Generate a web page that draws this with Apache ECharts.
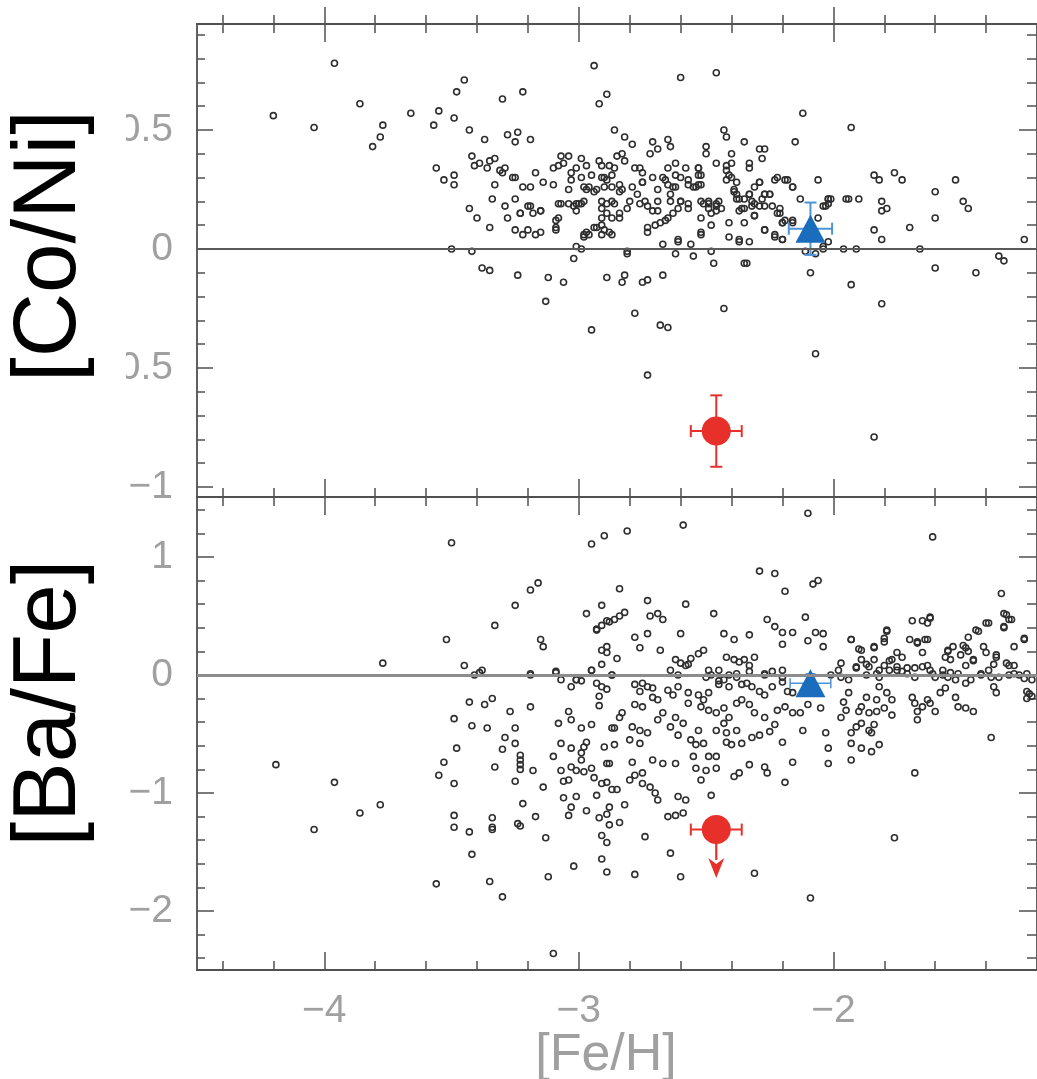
<!DOCTYPE html>
<html>
<head>
<meta charset="utf-8">
<script src="https://cdn.jsdelivr.net/npm/echarts@6/dist/echarts.min.js"></script>
<style>
html,body{margin:0;padding:0;background:#fff;}
#chart{width:1037px;height:1079px;}
</style>
</head>
<body>
<div id="chart"></div>
<script>
// ---------------- data ----------------
// comparison stars, top panel: [ [Fe/H], [Co/Ni] ]
const coNiStars = [
[-4.20,0.56],[-4.04,0.51],[-3.96,0.78],[-3.86,0.61],[-3.81,0.43],[-3.78,0.47],[-3.77,0.52],[-3.66,0.57],[-3.57,0.52],[-3.55,0.58],[-3.49,0.55],[-3.48,0.66],[-3.45,0.71],[-3.43,0.50],[-3.37,0.46],[-3.30,0.63],[-3.28,0.48],[-3.25,0.45],[-3.56,0.34],[-3.53,0.29],[-3.49,0.27],[-3.49,0.31],[-3.42,0.39],[-3.41,0.35],[-3.39,0.36],[-3.36,0.34],[-3.35,0.37],[-3.33,0.38],[-3.31,0.33],[-3.29,0.34],[-3.26,0.30],[-3.33,0.27],[-3.34,0.21],[-3.29,0.18],[-3.25,0.21],[-3.43,0.17],[-3.40,0.13],[-3.35,0.09],[-3.28,0.13],[-3.25,0.08],[-3.50,0.00],[-3.42,-0.01],[-3.38,-0.08],[-3.35,-0.09],[-3.24,-0.11],
[-3.22,0.66],[-2.89,0.65],[-2.92,0.61],[-2.86,0.50],[-2.82,0.47],[-3.24,0.49],[-3.19,0.46],[-3.30,0.32],[-3.25,0.30],[-3.22,0.26],[-3.19,0.26],[-3.17,0.32],[-3.14,0.28],[-3.10,0.27],[-3.10,0.34],[-3.07,0.39],[-3.04,0.39],[-3.06,0.36],[-3.08,0.35],[-3.01,0.34],[-2.99,0.38],[-2.97,0.35],[-2.95,0.31],[-3.03,0.32],[-3.03,0.29],[-3.04,0.25],[-2.99,0.30],[-2.92,0.37],[-2.91,0.35],[-2.88,0.35],[-2.86,0.34],[-2.83,0.40],[-2.82,0.37],[-2.91,0.30],[-2.89,0.29],[-2.87,0.31],[-2.84,0.27],[-2.83,0.25],[-2.96,0.26],[-2.93,0.25],[-3.23,0.15],[-3.19,0.18],[-3.18,0.15],[-3.15,0.16],[-3.22,0.06],[-3.17,0.06],[-3.09,0.09],[-3.08,0.13],[-3.07,0.19],[-3.04,0.19],[-3.01,0.19],[-2.99,0.19],[-3.01,0.16],[-2.98,0.06],[-2.97,0.07],[-2.94,0.09],[-2.91,0.10],[-2.91,0.06],[-2.88,0.07],[-2.91,0.17],[-2.89,0.19],[-2.87,0.13],[-2.84,0.15],[-2.94,0.24],[-3.01,0.01],[-2.99,0.00],[-3.02,-0.04],[-3.12,-0.12],[-3.06,-0.14],[-3.13,-0.22],[-2.89,-0.12],[-2.83,-0.14],[-2.82,-0.11],
[-2.94,0.77],[-2.60,0.72],[-2.46,0.74],[-2.12,0.57],[-1.93,0.51],[-2.79,0.44],[-2.71,0.45],[-2.69,0.42],[-2.65,0.46],[-2.64,0.43],[-2.72,0.40],[-2.50,0.43],[-2.50,0.40],[-2.43,0.50],[-2.42,0.47],[-2.35,0.45],[-2.29,0.42],[-2.27,0.42],[-2.40,0.40],[-2.28,0.38],[-2.33,0.36],[-2.33,0.34],[-2.15,0.45],[-2.90,0.30],[-2.85,0.39],[-2.76,0.34],[-2.75,0.32],[-2.78,0.34],[-2.65,0.34],[-2.62,0.36],[-2.58,0.34],[-2.62,0.31],[-2.53,0.34],[-2.53,0.31],[-2.46,0.36],[-2.42,0.35],[-2.40,0.36],[-2.42,0.33],[-2.41,0.31],[-2.98,0.26],[-2.97,0.25],[-2.90,0.26],[-2.87,0.26],[-2.84,0.24],[-2.75,0.28],[-2.71,0.30],[-2.67,0.30],[-2.65,0.27],[-2.63,0.26],[-2.57,0.27],[-2.54,0.26],[-2.52,0.27],[-2.38,0.28],[-2.39,0.24],[-2.29,0.28],[-2.22,0.30],[-2.18,0.29],[-2.16,0.26],[-2.06,0.29],[-1.84,0.31],[-1.82,0.29],[-1.76,0.32],[-1.73,0.29],[-1.52,0.29],[-1.60,0.24],[-1.49,0.20],[-1.47,0.17],[-1.81,0.20],[-1.79,0.17],[-1.81,0.16],[-1.90,0.21],[-1.95,0.21],[-1.94,0.21],[-2.02,0.21],[-2.03,0.18],[-2.06,0.13],[-1.60,0.13],[-1.70,0.09],[-1.84,0.08],[-1.81,0.04],[-1.25,0.04],[-1.96,0.00],[-1.91,0.00],[-1.66,0.00],[-2.04,0.00],[-1.35,-0.03],[-1.33,-0.05],[-1.60,-0.08],[-1.44,-0.10],[-1.93,-0.15],[-1.81,-0.23],[-2.09,-0.10],[-2.11,-0.01],[-2.07,-0.02],[-2.07,-0.44],[-1.84,-0.79],[-2.43,-0.25],[-2.73,-0.53],[-2.68,-0.32],[-2.65,-0.33],[-2.78,-0.27],[-2.95,-0.34],[-2.73,-0.13],[-2.75,-0.14],[-2.67,-0.11],[-2.35,-0.06],[-2.34,-0.06],[-2.47,-0.06],[-2.62,-0.02],[-2.55,-0.03],[-2.48,-0.01],[-2.81,-0.01],[-2.67,0.02],[-2.61,0.04],[-2.56,0.02],[-2.52,0.07],[-2.48,0.10],[-2.41,0.05],[-2.37,0.04],[-2.33,0.03],[-2.41,0.11],[-2.35,0.11],[-2.27,0.08],[-2.23,0.05],[-2.20,0.04],[-2.20,0.11],[-2.16,0.11],[-2.21,0.15],[-2.27,0.18],[-2.31,0.19],[-2.31,0.14],[-2.35,0.17],[-2.37,0.16],[-2.38,0.21],[-2.35,0.21],[-2.33,0.23],[-2.27,0.23],[-2.25,0.23],[-2.13,0.21],[-2.44,0.17],[-2.46,0.19],[-2.49,0.17],[-2.51,0.19],[-2.49,0.20],[-2.48,0.15],[-2.46,0.16],[-2.52,0.13],[-2.57,0.17],[-2.60,0.20],[-2.61,0.17],[-2.63,0.15],[-2.65,0.13],[-2.66,0.12],[-2.68,0.11],[-2.70,0.10],[-2.73,0.09],[-2.73,0.07],[-2.69,0.16],[-2.71,0.16],[-2.73,0.18],[-2.76,0.19],[-2.80,0.20],[-2.81,0.17],[-2.84,0.13],[-2.86,0.19],[-2.87,0.20],[-2.91,0.20],[-2.89,0.15],[-2.91,0.13],[-2.90,0.08],[-2.87,0.06],[-2.93,0.09],[-2.96,0.06],[-2.98,0.05],[-3.00,0.19],[-3.02,0.18],[-2.98,0.20],[-3.08,0.19],[-3.09,0.12],[-3.09,0.08],[-3.15,0.07],[-3.20,0.08],[-3.15,0.16],[-3.20,0.18],[-3.23,0.15],
[-2.40,0.30],[-2.42,0.29],[-2.66,0.29],[-2.60,0.30],[-2.57,0.29],[-2.55,0.26],[-2.53,0.27],[-2.52,0.31],[-2.53,0.34],[-2.69,0.25],[-2.64,0.23],[-2.62,0.26],[-2.79,0.26],[-2.75,0.28],[-2.77,0.23],[-2.74,0.20],[-2.69,0.20],[-2.64,0.20],[-2.60,0.20],[-2.57,0.19],[-2.52,0.20],[-2.49,0.19],[-2.46,0.18],[-2.45,0.20],[-2.39,0.25],[-2.37,0.21],[-2.38,0.23],[-2.33,0.23],[-2.31,0.26],[-2.29,0.28],[-2.27,0.23],[-2.25,0.23],[-2.28,0.21],[-2.32,0.20],[-2.32,0.18],[-2.29,0.18],[-2.23,0.29],[-2.19,0.29],[-2.16,0.26],[-2.02,0.21],[-2.01,0.21],[-2.04,0.18],[-2.02,0.19],[-2.36,0.17],[-2.31,0.14],[-2.24,0.18],[-2.21,0.17],[-2.22,0.15],[-2.20,0.11],[-2.16,0.12],[-2.19,0.12],[-2.27,0.08],[-2.23,0.06],[-2.20,0.04],[-2.37,0.03],[-2.52,0.06],[-2.61,0.03],[-2.81,-0.02],[-2.04,0.01],[-2.02,0.03]
];

// comparison stars, bottom panel: [ [Fe/H], [Ba/Fe] ]
const baFeStars = [
[-4.19,-0.76],[-4.04,-1.31],[-3.96,-0.91],[-3.86,-1.17],[-3.78,-1.10],[-3.77,0.10],[-3.50,1.12],[-3.52,0.30],[-3.33,0.42],[-3.25,0.59],[-3.45,0.08],[-3.41,0.00],[-3.39,0.02],[-3.38,0.04],[-3.43,-0.23],[-3.37,-0.25],[-3.34,-0.20],[-3.49,-0.37],[-3.42,-0.43],[-3.36,-0.45],[-3.27,-0.31],[-3.25,-0.45],[-3.48,-0.62],[-3.53,-0.74],[-3.55,-0.85],[-3.49,-0.92],[-3.33,-0.78],[-3.30,-0.63],[-3.29,-0.53],[-3.25,-0.58],[-3.25,-0.90],[-3.49,-1.19],[-3.49,-1.29],[-3.43,-1.33],[-3.34,-1.21],[-3.34,-1.29],[-3.34,-1.31],[-3.42,-1.52],[-3.56,-1.77],[-3.35,-1.75],[-3.30,-1.88],[-3.24,-1.26],
[-3.16,0.78],[-3.19,0.72],[-3.15,0.30],[-3.14,0.24],[-2.97,0.52],[-2.91,0.59],[-2.93,0.38],[-2.91,0.42],[-2.88,0.45],[-2.86,0.47],[-2.91,0.21],[-2.89,0.24],[-2.89,0.19],[-2.85,0.14],[-2.91,0.09],[-2.95,0.04],[-3.19,0.00],[-3.09,0.02],[-3.07,-0.04],[-3.03,-0.10],[-3.01,-0.04],[-2.99,-0.05],[-2.93,-0.07],[-2.91,-0.10],[-2.89,-0.12],[-2.92,-0.18],[-2.92,-0.26],[-2.87,0.00],[-3.19,-0.27],[-3.23,-0.68],[-3.23,-0.72],[-3.23,-0.76],[-3.23,-0.80],[-3.18,-0.81],[-3.14,-0.95],[-3.04,-0.31],[-3.03,-0.38],[-3.08,-0.41],[-2.99,-0.45],[-2.95,-0.42],[-2.87,-0.45],[-3.07,-0.58],[-3.03,-0.62],[-2.97,-0.57],[-2.98,-0.61],[-2.99,-0.66],[-2.99,-0.72],[-3.10,-0.69],[-3.07,-0.81],[-3.06,-0.90],[-3.04,-0.89],[-3.03,-0.78],[-3.01,-0.81],[-2.98,-0.82],[-2.95,-0.79],[-2.94,-0.87],[-2.91,-0.92],[-2.89,-0.91],[-2.89,-0.75],[-2.90,-0.61],[-2.86,-0.59],[-2.87,-0.97],[-3.06,-1.04],[-3.01,-1.03],[-2.93,-1.02],[-3.03,-1.12],[-3.04,-1.19],[-2.97,-1.15],[-2.92,-1.21],[-2.89,-1.18],[-2.88,-1.27],[-3.22,-1.09],[-3.17,-1.20],[-3.23,-1.28],[-3.13,-1.38],[-2.91,-1.36],[-2.89,-1.42],[-2.91,-1.56],[-3.02,-1.62],[-2.89,-1.67],[-3.12,-1.71],[-3.10,-2.36],
[-2.10,1.37],[-2.59,1.27],[-2.95,1.11],[-2.90,1.18],[-2.81,1.22],[-1.61,1.17],[-2.29,0.88],[-2.23,0.86],[-2.19,0.71],[-2.08,0.77],[-2.06,0.80],[-1.34,0.69],[-2.84,0.73],[-2.73,0.63],[-2.58,0.60],[-2.93,0.39],[-2.89,0.46],[-2.84,0.50],[-2.82,0.53],[-2.72,0.50],[-2.69,0.52],[-2.67,0.47],[-2.47,0.52],[-2.26,0.47],[-2.23,0.41],[-2.11,0.49],[-1.69,0.46],[-1.65,0.46],[-1.62,0.49],[-1.40,0.44],[-1.33,0.52],[-1.33,0.41],[-1.30,0.47],[-2.78,0.32],[-2.73,0.35],[-2.76,0.23],[-2.68,0.21],[-2.60,0.35],[-2.43,0.35],[-2.39,0.30],[-2.33,0.34],[-2.20,0.36],[-2.16,0.36],[-2.20,0.26],[-2.10,0.29],[-2.07,0.36],[-2.04,0.35],[-2.04,0.24],[-1.93,0.30],[-1.90,0.22],[-1.84,0.24],[-1.79,0.37],[-1.80,0.31],[-1.70,0.30],[-1.67,0.28],[-1.65,0.19],[-1.63,0.30],[-1.55,0.20],[-1.53,0.24],[-1.49,0.25],[-1.47,0.20],[-1.43,0.37],[-1.41,0.24],[-1.36,0.17],[-1.29,0.24],[-1.25,0.31],
[-3.19,0.01],[-3.09,0.03],[-3.01,-0.04],[-2.95,0.04],[-2.87,0.00],[-2.64,0.04],[-2.61,0.00],[-2.57,0.09],[-2.50,-0.02],[-2.45,-0.05],[-2.41,0.00],[-2.38,0.01],[-2.33,0.03],[-2.27,0.01],[-2.20,0.04],[-1.97,-0.02],[-1.94,-0.04],[-1.91,0.06],[-1.87,0.09],[-1.83,0.01],[-1.80,0.08],[-1.78,0.12],[-1.75,0.04],[-1.71,0.01],[-1.68,-0.02],[-1.63,0.08],[-1.61,0.01],[-1.57,0.04],[-1.55,-0.02],[-1.51,0.01],[-1.48,0.08],[-1.45,0.12],[-1.42,0.01],[-1.39,0.04],[-1.37,0.09],[-1.31,0.08],[-1.29,0.01],[-1.24,0.01],[-1.23,-0.16],[-1.22,-0.18],
[-2.62,0.13],[-2.60,0.10],[-2.58,0.08],[-2.56,0.14],[-2.53,0.18],[-2.51,0.21],[-2.42,0.15],[-2.39,0.13],[-2.37,0.11],[-2.35,0.13],[-2.33,0.08],[-2.31,0.15],[-2.49,0.04],[-2.48,0.00],[-2.45,0.04],[-2.27,0.00],[-2.24,0.03],[-2.20,-0.02],
[-2.78,-0.08],[-2.75,-0.07],[-2.73,-0.10],[-2.71,-0.11],[-2.76,-0.14],[-2.71,-0.19],[-2.78,-0.25],[-2.75,-0.27],[-2.69,-0.21],[-2.65,-0.13],[-2.63,-0.17],[-2.61,-0.10],[-2.57,-0.15],[-2.53,-0.17],[-2.51,-0.21],[-2.49,-0.15],[-2.45,-0.08],[-2.43,-0.04],[-2.41,-0.10],[-2.38,-0.02],[-2.36,-0.08],[-2.34,-0.07],[-2.32,-0.10],[-2.29,-0.14],[-2.27,-0.17],[-2.24,-0.10],[-2.20,-0.06],[-2.18,-0.14],[-2.16,-0.15],[-2.57,-0.24],[-2.52,-0.27],[-2.49,-0.30],[-2.46,-0.32],[-2.43,-0.28],[-2.41,-0.36],[-2.38,-0.24],[-2.36,-0.21],[-2.33,-0.25],[-2.31,-0.32],[-2.27,-0.36],[-2.22,-0.30],[-2.19,-0.27],[-2.16,-0.32],[-2.13,-0.32],[-2.10,-0.25],
[-2.86,-0.45],[-2.83,-0.32],[-2.84,-0.36],[-2.79,-0.44],[-2.76,-0.47],[-2.80,-0.55],[-2.76,-0.58],[-2.73,-0.49],[-2.69,-0.38],[-2.67,-0.32],[-2.64,-0.44],[-2.62,-0.36],[-2.61,-0.51],[-2.59,-0.41],[-2.56,-0.55],[-2.53,-0.47],[-2.54,-0.59],[-2.51,-0.58],[-2.46,-0.47],[-2.43,-0.41],[-2.42,-0.49],[-2.38,-0.47],[-2.42,-0.57],[-2.40,-0.59],[-2.36,-0.58],[-2.32,-0.53],[-2.29,-0.51],[-2.25,-0.48],[-2.23,-0.42],[-2.20,-0.57],[-2.12,-0.47],[-2.16,-0.74],[-2.19,-0.91],
[-2.88,-0.75],[-2.85,-0.97],[-2.82,-1.10],[-2.88,-1.12],[-2.84,-1.25],[-2.79,-0.74],[-2.71,-0.72],[-2.67,-0.75],[-2.62,-0.75],[-2.78,-0.85],[-2.80,-0.89],[-2.75,-0.83],[-2.75,-0.92],[-2.72,-0.95],[-2.70,-1.00],[-2.69,-1.06],[-2.61,-1.03],[-2.58,-1.06],[-2.55,-0.69],[-2.54,-0.79],[-2.52,-0.89],[-2.49,-0.69],[-2.46,-0.69],[-2.50,-0.81],[-2.46,-0.79],[-2.48,-1.02],[-2.39,-0.86],[-2.37,-0.83],[-2.33,-0.76],[-2.27,-0.78],[-2.26,-0.83],[-2.59,-1.17],[-2.65,-1.20],[-2.62,-1.19],[-2.74,-1.37],[-2.64,-1.51],[-2.78,-1.69],[-2.60,-1.71],[-2.31,-1.68],[-2.09,-1.89],
[-1.32,0.51],[-1.31,0.47],[-1.33,0.40],[-1.39,0.44],[-1.25,0.30],[-1.63,0.44],[-1.62,0.48],[-1.64,0.30],[-1.67,0.27],[-1.79,0.38],[-1.80,0.28],[-1.93,0.30],[-1.89,0.21],[-1.84,0.23],
[-1.44,0.38],[-1.47,0.32],[-1.48,0.23],[-1.55,0.21],[-1.56,0.15],[-1.54,0.13],[-1.50,0.17],[-1.45,0.13],[-1.40,0.19],[-1.36,0.15],[-1.32,0.10],[-1.29,0.08],[-1.75,0.19],[-1.73,0.15],[-1.77,0.13],[-1.75,0.07],[-1.78,0.04],[-1.73,0.03],[-1.71,0.06],[-1.84,0.13],[-1.86,0.07],[-1.82,0.04],[-1.82,-0.02],[-1.89,0.13],[-1.91,0.07],[-1.87,0.00],[-1.97,0.10],[-1.98,0.04],[-2.01,0.00],
[-1.68,0.06],[-1.65,0.07],[-1.62,0.04],[-1.60,-0.02],[-1.57,0.00],[-1.54,0.02],[-1.52,-0.04],[-1.48,-0.07],[-1.46,-0.04],[-1.42,0.00],[-1.38,-0.02],[-1.35,-0.02],[-1.31,0.00],[-1.27,0.00],[-1.25,-0.03],[-1.22,-0.04],
[-1.82,-0.10],[-1.79,-0.15],[-1.77,-0.21],[-1.83,-0.21],[-1.87,-0.19],[-1.89,-0.27],[-1.90,-0.31],[-1.86,-0.32],[-1.83,-0.31],[-1.80,-0.28],[-1.77,-0.34],[-1.94,-0.15],[-1.96,-0.23],[-1.95,-0.30],[-1.97,-0.36],[-1.91,-0.44],[-1.93,-0.49],[-1.89,-0.41],[-1.86,-0.47],[-1.85,-0.49],[-1.84,-0.42],[-1.82,-0.59],[-1.85,-0.65],[-1.89,-0.62],[-1.93,-0.58],[-1.93,-0.72],[-2.03,-0.49],[-2.02,-0.62],[-2.02,-0.75],[-1.68,-0.83],[-1.76,-1.38],[-1.67,-0.38],[-1.67,-0.31],[-1.69,-0.19],[-1.68,-0.24],[-1.65,-0.27],[-1.63,-0.21],[-1.62,-0.24],[-1.60,-0.31],[-1.58,-0.15],[-1.56,-0.11],[-1.52,-0.19],[-1.51,-0.27],[-1.48,-0.28],[-1.45,-0.31],[-1.37,-0.10],[-1.36,-0.15],[-1.38,-0.53],[-1.24,-0.14],[-1.24,-0.20],[-2.05,-0.28]
];

// highlighted stars: [ [Fe/H], value, [Fe/H] error, value error ]
const redCoNi  = [[-2.46, -0.765, 0.10, 0.15]];
const blueCoNi = [[-2.09, 0.085, 0.085, 0.11]];
const redBaFe  = [[-2.46, -1.31, 0.10, 0]];     // upper limit
const redBaFeLimitTo = [-1.72];                  // arrow tip of the upper limit
const blueBaFe = [[-2.09, -0.07, 0.08, 0.08]];

// axis ranges and ticks
const feRange = [-4.5, -1.2];
const coRange = [-1.042, 0.945];
const baRange = [-2.5, 1.508];
const feMajor = [-4, -3, -2];
const feMinor = [-4.4, -4.2, -3.8, -3.6, -3.4, -3.2, -2.8, -2.6, -2.4, -2.2, -1.8, -1.6, -1.4];
const feLabels = ['\u22124', '\u22123', '\u22122'];
const coMajor = [-1, -0.5, 0, 0.5];
const coMinor = [-0.9,-0.8,-0.7,-0.6,-0.4,-0.3,-0.2,-0.1,0.1,0.2,0.3,0.4,0.6,0.7,0.8,0.9];
const coLabels = ['\u22121', '\u22120.5', '0', '0.5'];
const baMajor = [-2, -1, 0, 1];
const baMinor = [-2.4,-2.2,-1.8,-1.6,-1.4,-1.2,-0.8,-0.6,-0.4,-0.2,0.2,0.4,0.6,0.8,1.2,1.4];
const baLabels = ['\u22122', '\u22121', '0', '1'];

// ---------------- styling helpers ----------------
const AXC = '#505050';
const LABEL_STYLE = { fontFamily: 'Liberation Sans', fontSize: 39, color: '#a0a0a0' };

function axis(gridIndex, position, range, ticks, len, o) {
  o = o || {};
  const a = {
    type: 'value', gridIndex: gridIndex, position: position,
    min: range[0], max: range[1],
    axisLine: { show: !!o.line, onZero: false, lineStyle: { color: AXC, width: 1.8 } },
    axisTick: { show: true, inside: !o.outside, length: len, customValues: ticks,
                lineStyle: { color: AXC, width: 1.5 } },
    axisLabel: { show: false },
    splitLine: { show: false },
    minorTick: { show: false },
    axisPointer: { show: false }
  };
  if (o.labels) {
    a.axisLabel = Object.assign({
      show: true, customValues: ticks, margin: o.margin,
      formatter: function (v) {
        const i = ticks.findIndex(function (t) { return Math.abs(t - v) < 1e-6; });
        return i >= 0 ? o.labels[i] : '';
      }
    }, LABEL_STYLE);
  }
  return a;
}

const MAJ = 18, MIN = 9;
const xAxes = [
  // grid 0 (top panel)
  axis(0, 'bottom', feRange, feMajor, MAJ, { line: true }),
  axis(0, 'bottom', feRange, feMinor, MIN),
  axis(0, 'top', feRange, feMajor, MAJ, { line: true }),
  axis(0, 'top', feRange, feMinor, MIN),
  // grid 1 (bottom panel)
  axis(1, 'bottom', feRange, feMajor, MAJ, { line: true, labels: feLabels, margin: 22 }),
  axis(1, 'bottom', feRange, feMinor, MIN),
  axis(1, 'top', feRange, feMajor, MAJ, { line: true }),
  axis(1, 'top', feRange, feMinor, MIN),
  // short outside ticks above the top frame
  axis(0, 'top', feRange, feMajor, 17, { outside: true }),
  axis(0, 'top', feRange, feMinor, 9, { outside: true })
];
const yAxes = [
  axis(0, 'left', coRange, coMajor, 16, { line: true, labels: coLabels, margin: 24 }),
  axis(0, 'left', coRange, coMinor, 8),
  axis(0, 'right', coRange, coMajor, 18, { line: true }),
  axis(0, 'right', coRange, coMinor, 10),
  axis(1, 'left', baRange, baMajor, 17, { line: true, labels: baLabels, margin: 24 }),
  axis(1, 'left', baRange, baMinor, 8),
  axis(1, 'right', baRange, baMajor, 18, { line: true }),
  axis(1, 'right', baRange, baMinor, 10)
];

const RED = '#e8302a', BLUE = '#1a6cbd', BLUE_BAR = '#4d93d6';

function errorBars(color, width, cap) {
  return function (params, api) {
    const x = api.value(0), y = api.value(1), ex = api.value(2), ey = api.value(3);
    const l = api.coord([x - ex, y]), r = api.coord([x + ex, y]);
    const st = { stroke: color, lineWidth: width };
    const ch = [
      { type: 'line', shape: { x1: l[0], y1: l[1], x2: r[0], y2: r[1] }, style: st },
      { type: 'line', shape: { x1: l[0], y1: l[1] - cap, x2: l[0], y2: l[1] + cap }, style: st },
      { type: 'line', shape: { x1: r[0], y1: r[1] - cap, x2: r[0], y2: r[1] + cap }, style: st }
    ];
    if (ey > 0) {
      const t = api.coord([x, y + ey]), b = api.coord([x, y - ey]);
      ch.push({ type: 'line', shape: { x1: t[0], y1: t[1], x2: b[0], y2: b[1] }, style: st });
      ch.push({ type: 'line', shape: { x1: t[0] - cap, y1: t[1], x2: t[0] + cap, y2: t[1] }, style: st });
      ch.push({ type: 'line', shape: { x1: b[0] - cap, y1: b[1], x2: b[0] + cap, y2: b[1] }, style: st });
    }
    return { type: 'group', children: ch };
  };
}

function limitArrow(params, api) {
  const x = api.value(0), y = api.value(1);
  const c = api.coord([x, y]);
  const tip = api.coord([x, redBaFeLimitTo[0]]);
  const headLen = 20, half = 8;
  return { type: 'group', children: [
    { type: 'line', shape: { x1: c[0], y1: c[1], x2: tip[0], y2: tip[1] - headLen + 2 },
      style: { stroke: RED, lineWidth: 2.2 } },
    { type: 'polygon', shape: { points: [[tip[0], tip[1]], [tip[0] - half, tip[1] - headLen], [tip[0], tip[1] - headLen + 6], [tip[0] + half, tip[1] - headLen]] },
      style: { fill: RED } }
  ] };
}

const starStyle = { color: 'rgba(255,255,255,0)', borderColor: '#2e2e2e', borderWidth: 1.6, opacity: 1 };

const chart = echarts.init(document.getElementById('chart'), null, { renderer: 'canvas' });
chart.setOption({
  animation: false,
  backgroundColor: '#ffffff',
  grid: [
    { left: 197, top: 24, width: 842, height: 473 },
    { left: 197, top: 497, width: 842, height: 473 }
  ],
  xAxis: xAxes,
  yAxis: yAxes,
  series: [
    { type: 'scatter', name: '[Co/Ni] comparison', xAxisIndex: 0, yAxisIndex: 0, data: coNiStars,
      symbol: 'circle', symbolSize: 6, itemStyle: starStyle, z: 2, silent: true,
      markLine: { silent: true, symbol: 'none', label: { show: false },
        lineStyle: { color: '#5a5a5a', width: 2, type: 'solid' }, data: [{ yAxis: 0 }] } },
    { type: 'scatter', name: '[Ba/Fe] comparison', xAxisIndex: 4, yAxisIndex: 4, data: baFeStars,
      symbol: 'circle', symbolSize: 6, itemStyle: starStyle, z: 2, silent: true,
      markLine: { silent: true, symbol: 'none', label: { show: false },
        lineStyle: { color: '#8c8c8c', width: 3, type: 'solid' }, data: [{ yAxis: 0 }] } },
    // error bars
    { type: 'custom', xAxisIndex: 0, yAxisIndex: 0, data: redCoNi, renderItem: errorBars(RED, 2, 6), z: 3, silent: true },
    { type: 'custom', xAxisIndex: 0, yAxisIndex: 0, data: blueCoNi, renderItem: errorBars(BLUE_BAR, 2, 6), z: 3, silent: true },
    { type: 'custom', xAxisIndex: 4, yAxisIndex: 4, data: redBaFe, renderItem: errorBars(RED, 2, 6), z: 3, silent: true },
    { type: 'custom', xAxisIndex: 4, yAxisIndex: 4, data: redBaFe, renderItem: limitArrow, z: 3, silent: true },
    { type: 'custom', xAxisIndex: 4, yAxisIndex: 4, data: blueBaFe, renderItem: errorBars(BLUE_BAR, 1.5, 5), z: 3, silent: true },
    // highlighted stars
    { type: 'scatter', xAxisIndex: 0, yAxisIndex: 0, data: redCoNi.map(function (d) { return [d[0], d[1]]; }),
      symbol: 'circle', symbolSize: 29, itemStyle: { color: RED, opacity: 1 }, z: 4, silent: true },
    { type: 'scatter', xAxisIndex: 0, yAxisIndex: 0, data: blueCoNi.map(function (d) { return [d[0], d[1]]; }),
      symbol: 'triangle', symbolSize: [30, 28], itemStyle: { color: BLUE, opacity: 1 }, z: 4, silent: true },
    { type: 'scatter', xAxisIndex: 4, yAxisIndex: 4, data: redBaFe.map(function (d) { return [d[0], d[1]]; }),
      symbol: 'circle', symbolSize: 29, itemStyle: { color: RED, opacity: 1 }, z: 4, silent: true },
    { type: 'scatter', xAxisIndex: 4, yAxisIndex: 4, data: blueBaFe.map(function (d) { return [d[0], d[1]]; }),
      symbol: 'triangle', symbolSize: [30, 28], itemStyle: { color: BLUE, opacity: 1 }, z: 4, silent: true }
  ],
  graphic: [
    { type: 'rect', z: 100, shape: { x: 0, y: 70, width: 126, height: 330 }, style: { fill: '#ffffff' } },
    { type: 'text', z: 101, x: 50, y: 246, rotation: Math.PI / 2,
      style: { text: '[Co/Ni]', font: '89px "Liberation Sans"', fill: '#000000', align: 'center', verticalAlign: 'middle' } },
    { type: 'text', z: 101, x: 50, y: 703, rotation: Math.PI / 2,
      style: { text: '[Ba/Fe]', font: '89px "Liberation Sans"', fill: '#000000', align: 'center', verticalAlign: 'middle' } },
    { type: 'text', z: 101, x: 606, y: 1056,
      style: { text: '[Fe/H]', font: '52px "Liberation Sans"', fill: '#a0a0a0', align: 'center', verticalAlign: 'middle' } }
  ]
});
</script>
</body>
</html>
